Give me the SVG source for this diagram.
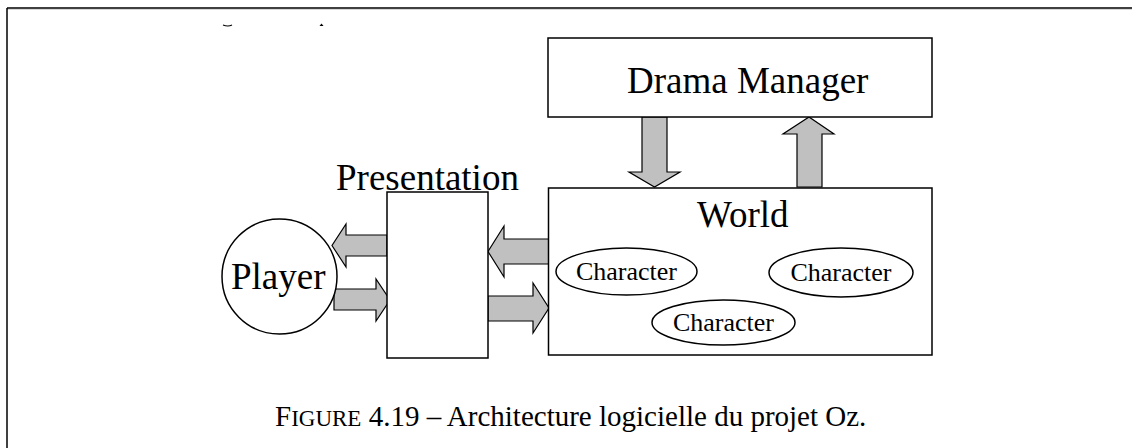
<svg xmlns="http://www.w3.org/2000/svg" width="1132" height="448" viewBox="0 0 1132 448">
<style>
.box{fill:#fff;stroke:#000;stroke-width:1.5}
.arr{fill:#c0c0c0;stroke:#000;stroke-width:1.2;stroke-linejoin:miter}
.lbl{font-family:"Liberation Serif","Times New Roman",serif;font-size:37px;fill:#000}
.chr{font-family:"Liberation Serif","Times New Roman",serif;font-size:26px;fill:#000;text-anchor:middle}
.cap{font-family:"Liberation Serif","Times New Roman",serif;font-size:29px;fill:#000}
</style>
<rect width="1132" height="448" fill="#fff"/>
<g id="frame">
<line x1="7" y1="9.5" x2="1132" y2="9.5" stroke="#d8d8d8" stroke-width="1"/>
<line x1="7" y1="8" x2="1132" y2="8" stroke="#000" stroke-width="1.5"/>
<line x1="7" y1="8" x2="7" y2="448" stroke="#000" stroke-width="1.5"/>
<path d="M223 25 Q228 27 232 25" fill="none" stroke="#000" stroke-width="1.2"/>
<path d="M319.5 26 L321.5 23.5 L323.5 26 Z" fill="#000"/>
</g>
<g id="connectors">
<polygon class="arr" points="642,117 667,117 667,172 680,172 654.5,187 629,172 642,172"/>
<polygon class="arr" points="797,187 822,187 822,134 834,134 809,117 783,134 797,134"/>
<polygon class="arr" points="387,235 346,235 346,224 332,245.5 346,267 346,256 387,256"/>
<polygon class="arr" points="334,289 376,289 376,279 390,300 376,321 376,310 334,310"/>
<polygon class="arr" points="549,239 504,239 504,226 488,251.5 504,277 504,264 549,264"/>
<polygon class="arr" points="488,296 533,296 533,283 549,308 533,333 533,321 488,321"/>
</g>
<g id="drama-manager">
<rect class="box" x="548" y="38" width="384" height="79"/>
<text class="lbl" x="627" y="93">Drama Manager</text>
</g>
<g id="world">
<rect class="box" x="548.5" y="188" width="383.5" height="167"/>
<text class="lbl" x="697" y="227">World</text>
</g>
<g id="character-1">
<ellipse class="box" cx="626.5" cy="271.5" rx="70.5" ry="23.5" stroke-width="1.2"/>
<text class="chr" x="626.5" y="280">Character</text>
</g>
<g id="character-2">
<ellipse class="box" cx="841" cy="272.5" rx="72" ry="24.5" stroke-width="1.2"/>
<text class="chr" x="841" y="281">Character</text>
</g>
<g id="character-3">
<ellipse class="box" cx="723.5" cy="322.5" rx="71.5" ry="22.5" stroke-width="1.2"/>
<text class="chr" x="723.5" y="331">Character</text>
</g>
<g id="presentation">
<rect class="box" x="387" y="192" width="101" height="166"/>
<text class="lbl" x="336" y="190">Presentation</text>
</g>
<g id="player">
<circle class="box" cx="279.5" cy="276.5" r="57.5"/>
<text class="lbl" x="231" y="289">Player</text>
</g>
<g id="caption">
<text class="cap" x="275" y="426">F<tspan font-size="23">IGURE</tspan> 4.19 – Architecture logicielle du projet Oz.</text>
</g>
</svg>
